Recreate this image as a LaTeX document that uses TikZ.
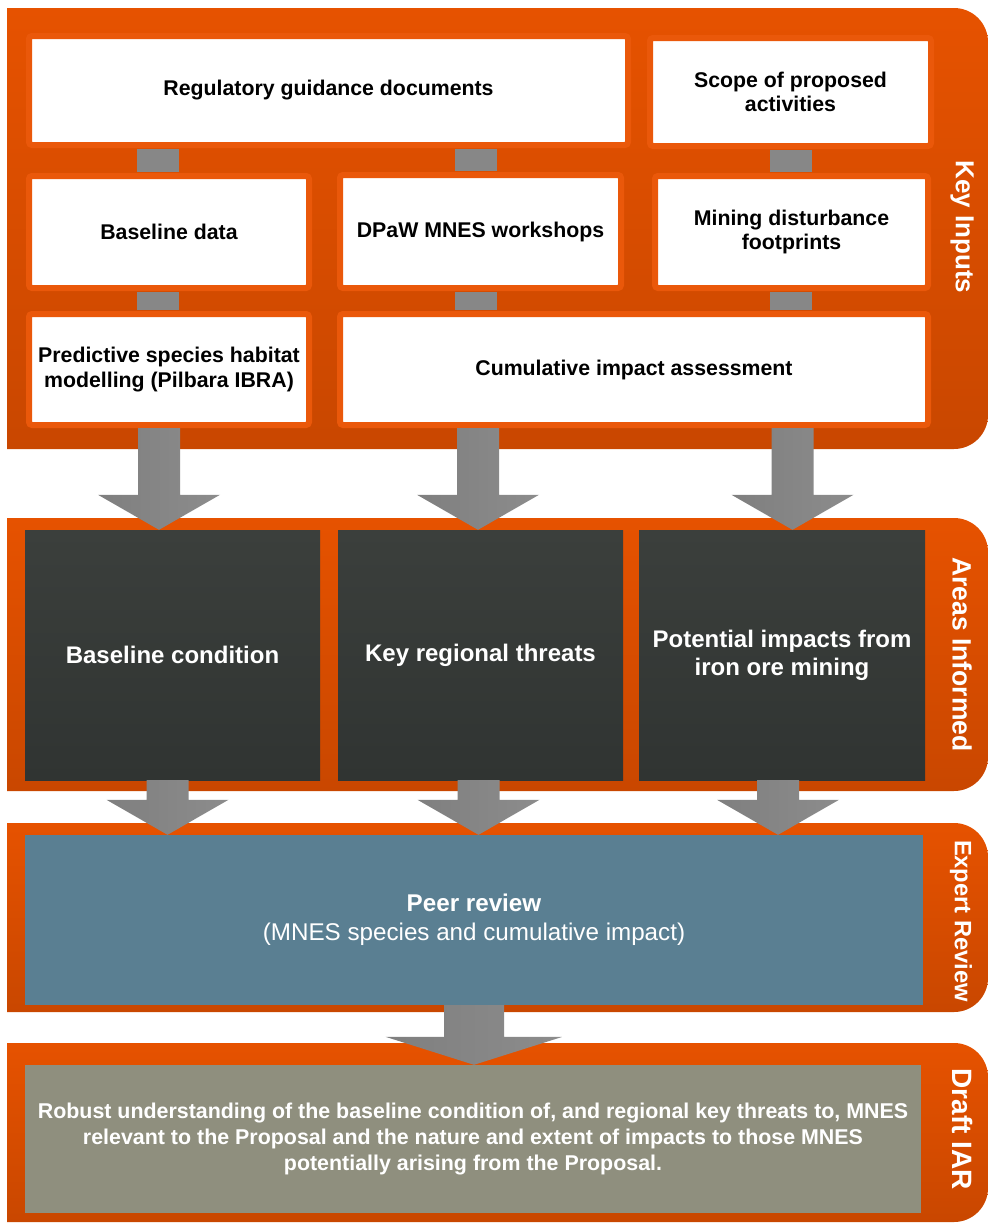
\documentclass[tikz,border=0pt]{standalone}
\usepackage{fontspec}
\setmainfont{Liberation Sans}
\usetikzlibrary{calc}

\definecolor{orTop}{HTML}{E65200}
\definecolor{orBot}{HTML}{C94700}
\definecolor{orFrame}{HTML}{EA580A}
\definecolor{dkTop}{HTML}{3B3F3C}
\definecolor{dkBot}{HTML}{303432}
\definecolor{reviewBlue}{HTML}{5A7F92}
\definecolor{draftOlive}{HTML}{8F8F7E}
\definecolor{connGray}{HTML}{878787}
\definecolor{arrL}{HTML}{7F7F7F}
\definecolor{arrR}{HTML}{8C8C8C}

% block arrow: start, tip, shaft half width, head half width, head length
\newcommand\blockarrow[5]{%
  \shade[left color=arrL, right color=arrR]
    let \p1=#1, \p2=#2 in
    (\x1-#3pt,\y1) -- (\x1+#3pt,\y1) -- (\x1+#3pt,\y2+#5pt) -- (\x1+#4pt,\y2+#5pt)
    -- (\x1,\y2) -- (\x1-#4pt,\y2+#5pt) -- (\x1-#3pt,\y2+#5pt) -- cycle;}

\begin{document}
\begin{tikzpicture}[x=1pt,y=-1pt,
  panel/.style={top color=orTop, bottom color=orBot},
  inbox/.style={fill=white, draw=orFrame, line width=6pt, rounded corners=3pt,
    inner sep=0pt, align=center, text=black,
    font=\bfseries\fontsize{21.3}{24.5}\selectfont},
  darkbox/.style={top color=dkTop, bottom color=dkBot, inner sep=0pt,
    align=center, text=white, font=\bfseries\fontsize{24}{28}\selectfont},
  tablabel/.style={rotate=-90, text=white, inner sep=0pt},
  conn/.style={draw=connGray, line width=42pt, shorten <=1pt, shorten >=1pt}]

\useasboundingbox (0,0) rectangle (988,1224);

% stage panels with rounded tab on the right
\shade[panel] (7,449) -- (7,8) [rounded corners=34pt] -- (988,8) -- (988,449) [sharp corners] -- cycle;
\shade[panel] (7,791) -- (7,518) [rounded corners=34pt] -- (988,518) -- (988,791) [sharp corners] -- cycle;
\shade[panel] (7,1012) -- (7,823) [rounded corners=34pt] -- (988,823) -- (988,1012) [sharp corners] -- cycle;
\shade[panel] (7,1222) -- (7,1043) [rounded corners=34pt] -- (988,1043) -- (988,1222) [sharp corners] -- cycle;

% stage labels
\node[tablabel, font=\bfseries\fontsize{26}{30}\selectfont] (lab1) at (962,227) {Key Inputs};
\node[tablabel, font=\bfseries\fontsize{26.5}{30}\selectfont] (lab2) at (962,654.5) {Areas Informed};
\node[tablabel, font=\bfseries\fontsize{23.7}{28}\selectfont] (lab3) at (961,921) {Expert Review};
\node[tablabel, font=\bfseries\fontsize{28}{32}\selectfont] (lab4) at (962,1129) {Draft IAR};

% key inputs
\node[inbox, minimum width=599pt, minimum height=109pt] (reg) at (328.5,90.5) {Regulatory guidance documents};
\node[inbox, minimum width=281pt, minimum height=108pt] (scope) at (790.5,92) {Scope of proposed\\activities};
\node[inbox, minimum width=280pt, minimum height=112pt] (base) at (169,232) {Baseline data};
\node[inbox, minimum width=281pt, minimum height=113pt] (dpaw) at (480.5,231.5) {DPaW MNES workshops};
\node[inbox, minimum width=273pt, minimum height=112pt] (mine) at (791.5,232) {Mining disturbance\\footprints};
\node[inbox, minimum width=280pt, minimum height=111pt] (pred) at (169,369.5) {Predictive species habitat\\modelling (Pilbara IBRA)};
\node[inbox, minimum width=588pt, minimum height=111pt] (cum) at (634,369.5) {Cumulative impact assessment};

% links between inputs
\coordinate (c1) at (158,0);
\coordinate (c2) at (476,0);
\coordinate (c3) at (791,0);
\draw[conn] (reg.south -| c1) -- (base.north -| c1);
\draw[conn] (reg.south -| c2) -- (dpaw.north -| c2);
\draw[conn] (scope.south -| c3) -- (mine.north -| c3);
\draw[conn] (base.south -| c1) -- (pred.north -| c1);
\draw[conn] (dpaw.south -| c2) -- (cum.north -| c2);
\draw[conn] (mine.south -| c3) -- (cum.north -| c3);

% areas informed
\node[darkbox, minimum width=295pt, minimum height=250pt] (bcond) at (172.5,655) {Baseline condition};
\node[darkbox, minimum width=285pt, minimum height=250pt] (threats) at (480.5,655) {Key regional threats};
\node[darkbox, minimum width=286pt, minimum height=250pt] (impacts) at (782,655) {Potential impacts from\\iron ore mining};

% expert review
\node[fill=reviewBlue, minimum width=898pt, minimum height=170pt, inner sep=0pt,
  align=center, text=white, font=\fontsize{24.2}{29}\selectfont] (peer) at (474,920)
  {{\bfseries Peer review}\\(MNES species and cumulative impact)};

% draft IAR
\node[fill=draftOlive, minimum width=896pt, minimum height=148pt, inner sep=0pt,
  align=center, text=white, font=\bfseries\fontsize{21.4}{26}\selectfont] (iar) at (473,1139)
  {Robust understanding of the baseline condition of, and regional key threats to, MNES\\
   relevant to the Proposal and the nature and extent of impacts to those MNES\\
   potentially arising from the Proposal.};

% flow arrows
\coordinate (a1) at (159,0);
\coordinate (a2) at (478,0);
\coordinate (a3) at (792.5,0);
\blockarrow{(pred.south -| a1)}{(bcond.north -| a1)}{21}{61}{35}
\blockarrow{(cum.south -| a2)}{(threats.north -| a2)}{21}{61}{35}
\blockarrow{(cum.south -| a3)}{(impacts.north -| a3)}{21}{61}{35}

\coordinate (b1) at (167.5,0);
\coordinate (b2) at (478.5,0);
\coordinate (b3) at (778,0);
\blockarrow{(bcond.south -| b1)}{(peer.north -| b1)}{21}{61}{35}
\blockarrow{(threats.south -| b2)}{(peer.north -| b2)}{21}{61}{35}
\blockarrow{(impacts.south -| b3)}{(peer.north -| b3)}{21}{61}{35}

\coordinate (d1) at (474,0);
\blockarrow{(peer.south -| d1)}{(iar.north -| d1)}{30}{88.5}{28}

\end{tikzpicture}
\end{document}
